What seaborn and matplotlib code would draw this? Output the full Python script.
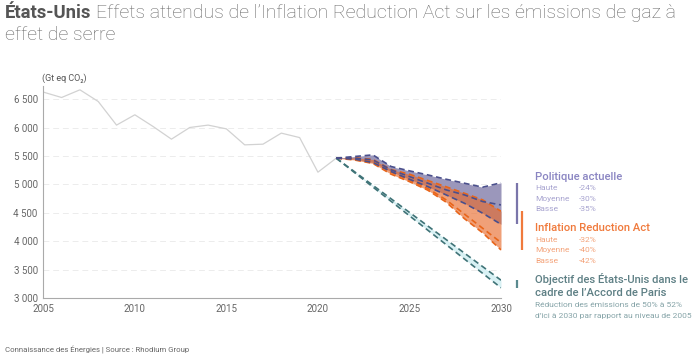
import matplotlib
matplotlib.use("Agg")
import matplotlib.pyplot as plt
import seaborn as sns
import pandas as pd
from matplotlib.ticker import FuncFormatter

# ---------------- data ----------------
hist_years = list(range(2005, 2022))
hist_values = [6623, 6528, 6663, 6458, 6043, 6224, 6018, 5796, 6001, 6043,
               5977, 5696, 5708, 5902, 5824, 5216, 5462]

proj_years = list(range(2021, 2031))
cp_high = [5462, 5491, 5520, 5315, 5239, 5168, 5092, 5022, 4952, 5030]
cp_mid = [5462, 5462, 5432, 5256, 5139, 5022, 4905, 4817, 4700, 4640]
cp_low = [5462, 5445, 5386, 5227, 5092, 4963, 4817, 4670, 4495, 4300]
ira_high = [5462, 5470, 5440, 5262, 5180, 5070, 4960, 4846, 4729, 4530]
ira_mid = [5462, 5450, 5400, 5215, 5080, 4930, 4730, 4480, 4230, 3980]
ira_low = [5462, 5430, 5370, 5180, 5050, 4900, 4690, 4400, 4150, 3850]

paris_years = [2021, 2030]
paris_high = [5462, 3318]
paris_low = [5462, 3185]

y_ticks = [3000, 3500, 4000, 4500, 5000, 5500, 6000, 6500]
x_ticks = [2005, 2010, 2015, 2020, 2025, 2030]

cp_labels = [("Haute", "-24%"), ("Moyenne", "-30%"), ("Basse", "-35%")]
ira_labels = [("Haute", "-32%"), ("Moyenne", "-40%"), ("Basse", "-42%")]

# ---------------- style ----------------
sns.set_theme(style="white")
plt.rcParams["font.family"] = ["Roboto", "DejaVu Sans"]

W, H = 700, 355
fig = plt.figure(figsize=(7.0, 3.55), dpi=100)
ax = fig.add_axes([43.3 / W, 1 - 298.3 / H, (501 - 43.3) / W, (298.3 - 86) / H])

PURPLE_FILL = "#9b97bb"
PURPLE_LINE = "#4a4f8c"
ORANGE_FILL = "#e86b2c"
ORANGE_LINE = "#e8651a"
TEAL_FILL = "#d8f1f4"
TEAL_LINE = "#3f7377"
GREY_LINE = "#d2d2d2"

hist_df = pd.DataFrame({"year": hist_years, "value": hist_values})
sns.lineplot(data=hist_df, x="year", y="value", ax=ax, color=GREY_LINE, lw=0.9)

# fills
ax.fill_between(proj_years, cp_low, cp_high, color=PURPLE_FILL, lw=0, zorder=1)
ax.fill_between(proj_years, ira_low, ira_high, color=ORANGE_FILL, alpha=0.64, lw=0, zorder=2)
ax.fill_between(paris_years, paris_low, paris_high, color=TEAL_FILL, lw=0, zorder=1)

dash = (0, (3.5, 2.2))
for series in (cp_high, cp_mid, cp_low):
    sns.lineplot(x=proj_years, y=series, ax=ax, color=PURPLE_LINE, lw=1.2, linestyle=dash, zorder=4)
for series in (ira_high, ira_mid, ira_low):
    sns.lineplot(x=proj_years, y=series, ax=ax, color=ORANGE_LINE, lw=1.2, linestyle=dash, zorder=3)
for series in (paris_high, paris_low):
    sns.lineplot(x=paris_years, y=series, ax=ax, color=TEAL_LINE, lw=1.2, linestyle=dash, zorder=3)

# range bars at right
ax.vlines(2030.87, cp_low[-1], cp_high[-1], color="#7a75aa", lw=1.6, clip_on=False)
ax.vlines(2031.16, ira_low[-1], ira_high[-1], color="#f07a3c", lw=1.6, clip_on=False)
ax.vlines(2030.87, paris_low[-1], paris_high[-1], color="#5a8a8f", lw=1.6, clip_on=False)

ax.set_xlim(2005, 2030)
ax.set_ylim(3000, 6730)
ax.set_xticks(x_ticks)
ax.set_yticks(y_ticks)
ax.yaxis.set_major_formatter(FuncFormatter(lambda v, p: f"{v:,.0f}".replace(",", " ")))
ax.tick_params(axis="both", length=0, labelsize=7, colors="#666666", pad=4)
ax.set_xlabel("")
ax.set_ylabel("")
for s in ("top", "right"):
    ax.spines[s].set_visible(False)
for s in ("left", "bottom"):
    ax.spines[s].set_color("#aaaaaa")
    ax.spines[s].set_linewidth(0.8)
ax.yaxis.grid(True, color="#ececec", lw=0.7, linestyle=(0, (6, 4)))
ax.xaxis.grid(False)
ax.set_axisbelow(True)

# ---------------- texts ----------------
def fx(px):
    return px / W

def fy(py):
    return 1 - py / H

fig.text(fx(42), fy(78), "(Gt eq CO₂)", fontsize=6.5, color="#555555", va="center", ha="left")

# title
t1 = fig.text(fx(5), fy(18), "États-Unis", fontsize=13.3, fontweight="bold", color="#555555",
              va="baseline", ha="left")
fig.canvas.draw()
r = fig.canvas.get_renderer()
bb = t1.get_window_extent(r)
fig.text(bb.x1 / W + fx(5), fy(18),
         "Effets attendus de l’Inflation Reduction Act sur les émissions de gaz à",
         fontsize=14, fontweight="light", color="#666666", va="baseline", ha="left")
fig.text(fx(5), fy(40), "effet de serre", fontsize=14, fontweight="light", color="#666666",
         va="baseline", ha="left")

# legend block
LX = 535
PX = 579
HEAD = dict(fontsize=8.1, fontweight="medium", va="center", ha="left")
ITEM = dict(fontsize=6.0, fontweight="normal", va="center", ha="left")

fig.text(fx(LX), fy(177), "Politique actuelle", color="#8a85c2", **HEAD)
for i, (a, b) in enumerate(cp_labels):
    y = 188.3 + i * 10.3
    fig.text(fx(LX), fy(y), a, color="#a8a4d0", **ITEM)
    fig.text(fx(PX), fy(y), b, color="#a8a4d0", **ITEM)

fig.text(fx(LX), fy(228.3), "Inflation Reduction Act", color="#f07a3c", **HEAD)
for i, (a, b) in enumerate(ira_labels):
    y = 240 + i * 10.4
    fig.text(fx(LX), fy(y), a, color="#f4a37a", **ITEM)
    fig.text(fx(PX), fy(y), b, color="#f4a37a", **ITEM)

fig.text(fx(LX), fy(279.3), "Objectif des États-Unis dans le", color="#5d7f84", **HEAD)
fig.text(fx(LX), fy(293.3), "cadre de l’Accord de Paris", color="#5d7f84", **HEAD)
fig.text(fx(LX), fy(305.3), "Réduction des émissions de 50% à 52%", color="#86a4a8", **ITEM)
fig.text(fx(LX), fy(315.7), "d’ici à 2030 par rapport au niveau de 2005", color="#86a4a8", **ITEM)

fig.text(fx(5), fy(350), "Connaissance des Énergies | Source : Rhodium Group", fontsize=5.6,
         fontweight="normal", color="#666666", va="center", ha="left")

fig.savefig("out.png", dpi=100, facecolor="white")
